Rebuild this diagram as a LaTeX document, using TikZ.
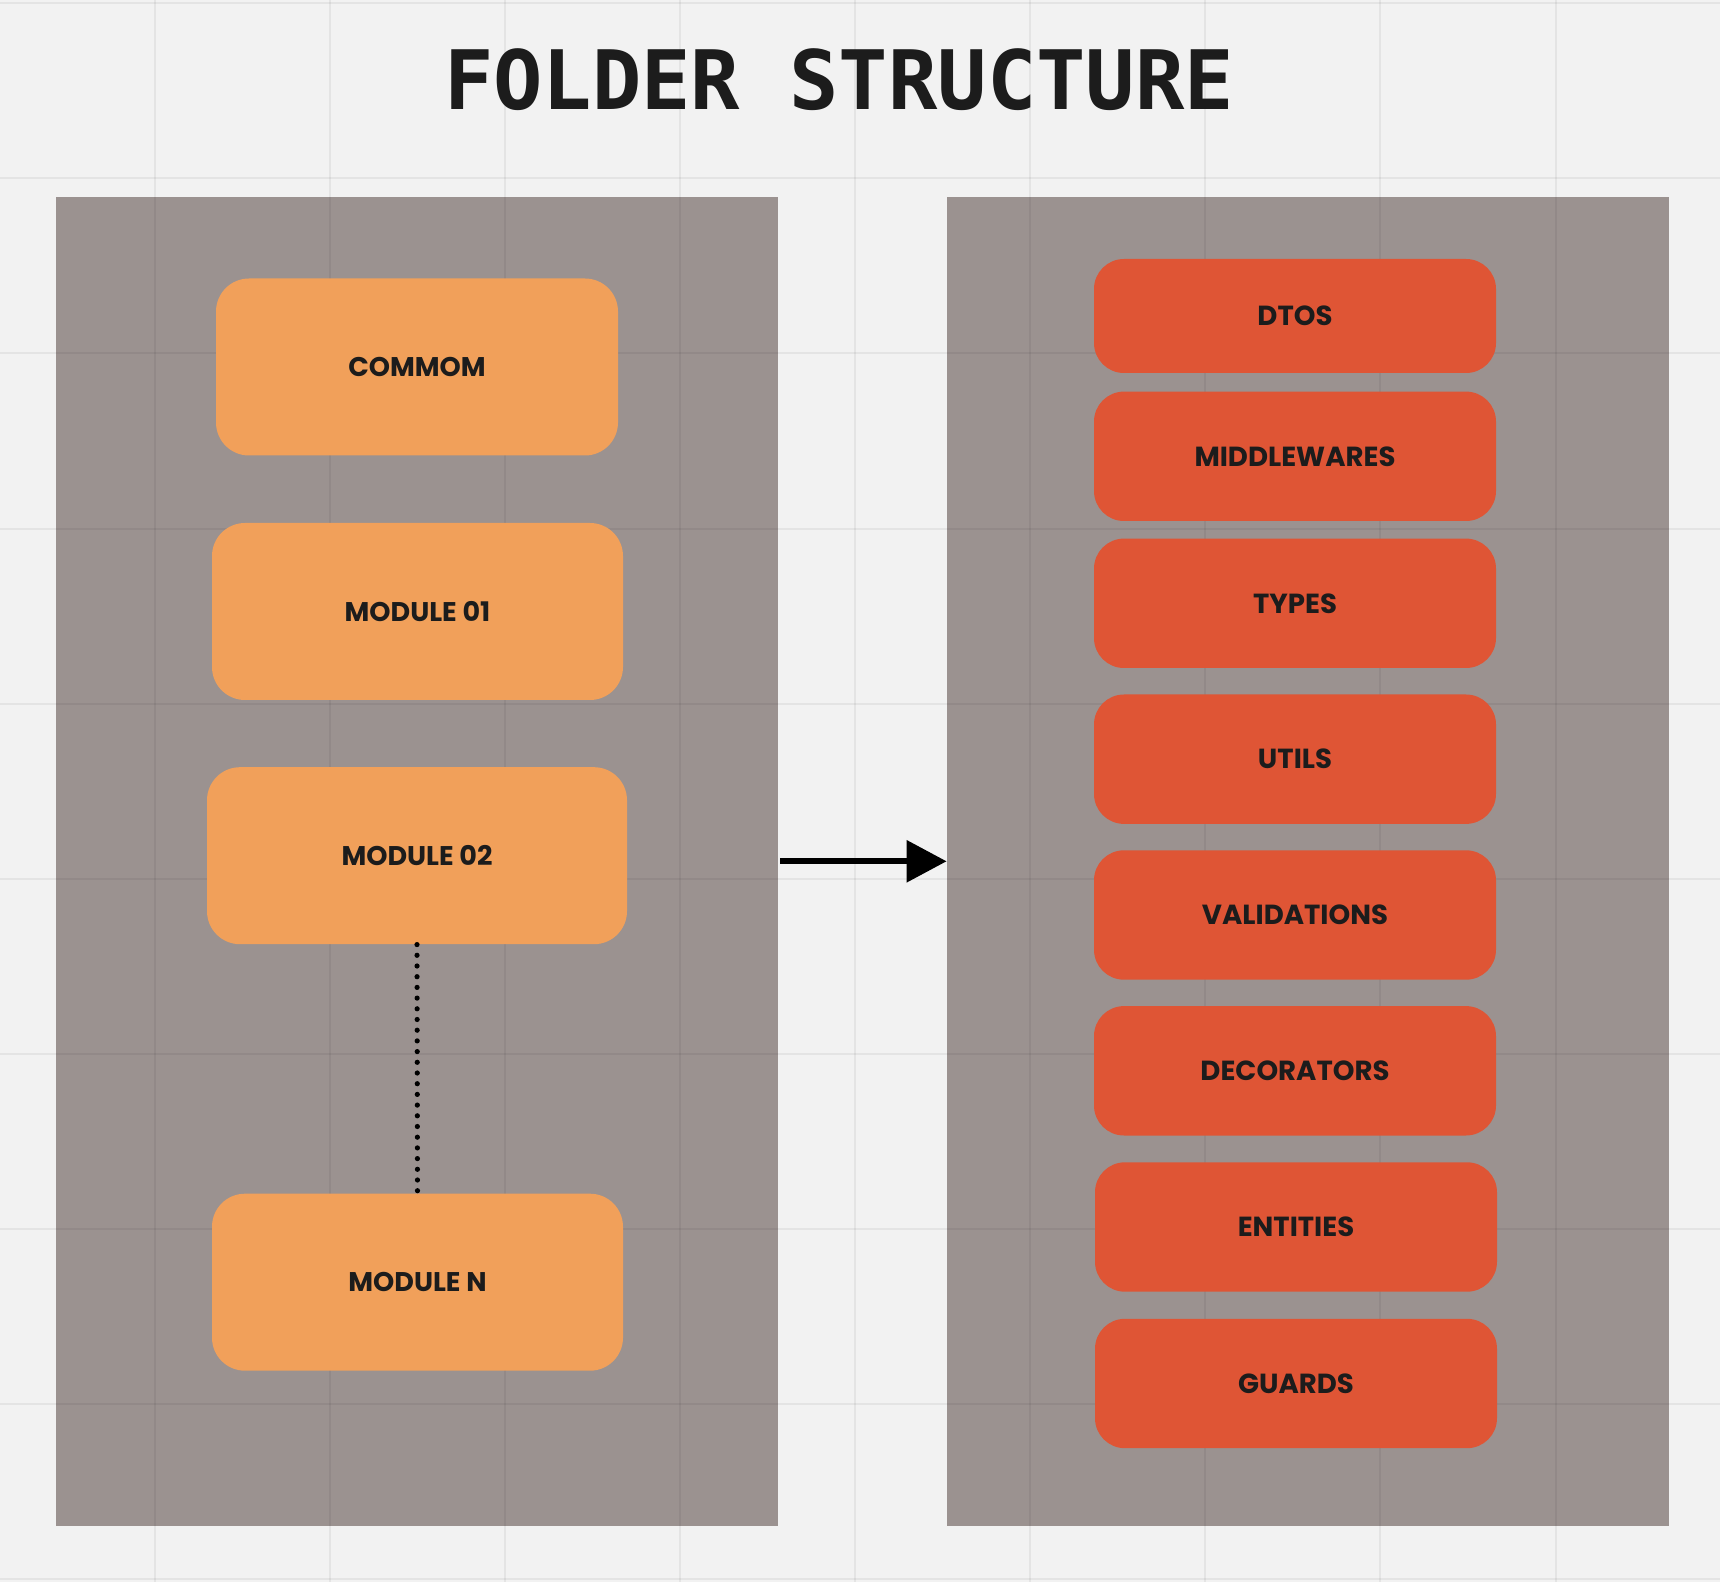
\documentclass[tikz,border=0pt]{standalone}
\usepackage{fontspec}
\setmainfont{Poppins}
\newfontfamily\titlefont{DejaVu Sans Mono}
\usetikzlibrary{arrows.meta}
\definecolor{bgc}{HTML}{F2F2F2}
\definecolor{panelc}{HTML}{9B9290}
\definecolor{orangec}{HTML}{F1A05A}
\definecolor{redc}{HTML}{DF5535}
\definecolor{inkc}{HTML}{1C1C1C}
\tikzset{
  panel/.style={fill=panelc, draw=none, inner sep=0pt, minimum width=361pt, minimum height=664.25pt},
  obox/.style={fill=orangec, draw=none, rounded corners=16.5pt, inner sep=0pt, text=inkc,
    font=\fontsize{13.5}{16}\selectfont\bfseries, minimum height=88.5pt},
  rbox/.style={fill=redc, draw=none, rounded corners=15pt, inner sep=0pt, text=inkc,
    font=\fontsize{13.8}{16}\selectfont\bfseries, minimum width=201pt, minimum height=64.7pt},
  gridline/.style={black, opacity=0.055, line width=1pt},
  bigarrow/.style={line width=3pt, -{Triangle[length=20pt,width=20.5pt]}},
  dotline/.style={line width=2.6pt, line cap=round, dash pattern=on 0pt off 5.35pt}
}
\begin{document}
\begin{tikzpicture}[x=0.5pt, y=-0.5pt]
\fill[bgc] (0,0) rectangle (1720,1582);
\useasboundingbox (0,0) rectangle (1720,1582);
% panels
\node[panel] (lp) at (417,861.3) {};
\node[panel] (rp) at (1308,861.3) {};
% grid
\foreach \gx in {154.7,329.8,504.9,680,855.1,1030.2,1205.3,1380.4,1555.5}
  \draw[gridline] (\gx,0) -- (\gx,1582);
\foreach \gy in {3.3,178.4,353.5,528.6,703.7,878.8,1053.9,1229,1404.1,1579.2}
  \draw[gridline] (0,\gy) -- (1720,\gy);
% title
\node[anchor=base, text=inkc, font=\titlefont\fontsize{41}{45}\selectfont\bfseries] (title) at (839,110) {FOLDER STRUCTURE};
% left boxes
\node[obox, minimum width=201pt] (commom) at (417,367) {COMMOM};
\node[obox, minimum width=205.5pt] (m1) at (417.5,611.5) {MODULE 01};
\node[obox, minimum width=210pt] (m2) at (417,855.7) {MODULE 02};
\node[obox, minimum width=205.5pt] (mn) at (417.5,1282.2) {MODULE N};
\draw[dotline] (m2.south) -- (mn.north);
% right boxes
\node[rbox, minimum height=57pt] (dtos) at (1295,316) {DTOS};
\node[rbox] (mid) at (1295,456.3) {MIDDLEWARES};
\node[rbox] (types) at (1295,603.3) {TYPES};
\node[rbox] (utils) at (1295,759.2) {UTILS};
\node[rbox] (valid) at (1295,915) {VALIDATIONS};
\node[rbox] (deco) at (1295,1070.8) {DECORATORS};
\node[rbox] (ent) at (1296,1227) {ENTITIES};
\node[rbox] (guards) at (1296,1383.5) {GUARDS};
% arrow
\draw[bigarrow] (lp.east) ++(1pt,0) -- (rp.west);
\end{tikzpicture}
\end{document}
